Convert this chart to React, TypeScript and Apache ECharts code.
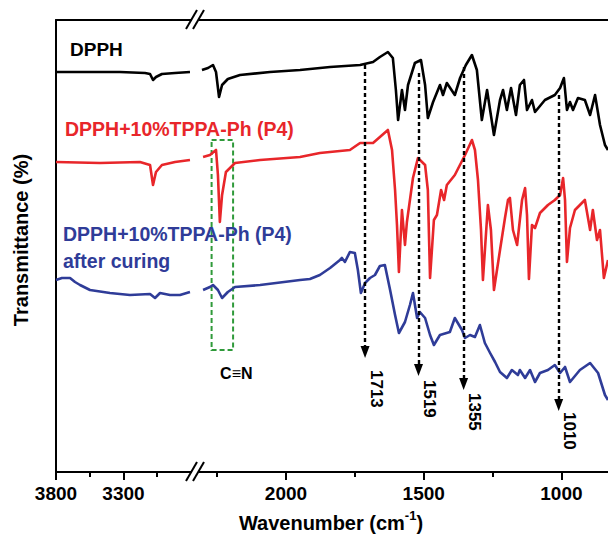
import React, { useEffect, useRef } from "react";
import * as echarts from "echarts";

const FONT = '"Liberation Sans", Arial, Helvetica, sans-serif';

// [wavenumber (cm-1), transmittance (a.u., offset spectra)]
const dpphLeft: [number, number][] = [
  [3800, 400], [3622, 400], [3326, 400], [3140, 399], [3103, 398], [3081, 392],
  [3059, 395], [3015, 398], [2918, 399], [2807, 400],
];
const dpphRight: [number, number][] = [
  [2305, 402], [2283, 404], [2265, 407], [2254, 400], [2243, 375], [2232, 387],
  [2211, 393], [2167, 397], [2058, 400], [1949, 402], [1840, 405], [1731, 407],
  [1684, 410], [1659, 415], [1630, 420], [1612, 414], [1601, 382], [1593, 352],
  [1579, 382], [1568, 362], [1557, 387], [1532, 409], [1510, 412], [1495, 387],
  [1485, 354], [1466, 370], [1441, 387], [1430, 377], [1416, 389], [1387, 377],
  [1368, 394], [1347, 407], [1325, 417], [1307, 402], [1289, 352], [1270, 382],
  [1259, 362], [1245, 337], [1223, 372], [1212, 382], [1198, 362], [1183, 384],
  [1165, 357], [1151, 387], [1136, 392], [1125, 362], [1107, 372], [1096, 360],
  [1060, 372], [1024, 377], [1005, 384], [991, 394], [980, 362], [969, 370],
  [958, 362], [940, 374], [915, 372], [896, 357], [878, 377], [860, 347],
  [842, 327], [831, 322],
];
const mixLeft: [number, number][] = [
  [3800, 310], [3474, 309], [3178, 310], [3103, 307], [3081, 287], [3059, 300],
  [3015, 307], [2918, 310], [2807, 312],
];
const mixRight: [number, number][] = [
  [2301, 315], [2276, 317], [2254, 322], [2247, 297], [2240, 250], [2232, 277],
  [2218, 300], [2185, 309], [2094, 312], [1949, 315], [1877, 319], [1768, 322],
  [1731, 329], [1684, 329], [1659, 335], [1630, 342], [1615, 322], [1604, 282],
  [1597, 247], [1590, 200], [1579, 262], [1568, 227], [1561, 250], [1550, 272],
  [1539, 294], [1521, 314], [1495, 307], [1485, 282], [1477, 194], [1463, 252],
  [1452, 257], [1437, 282], [1426, 272], [1416, 287], [1387, 297], [1350, 317],
  [1325, 332], [1314, 322], [1303, 292], [1292, 242], [1285, 192], [1267, 267],
  [1256, 242], [1245, 182], [1223, 222], [1205, 254], [1194, 272], [1187, 274],
  [1176, 242], [1161, 227], [1143, 272], [1132, 284], [1125, 257], [1118, 193],
  [1107, 247], [1096, 244], [1078, 259], [1049, 267], [1024, 272], [1005, 277],
  [994, 294], [987, 272], [980, 210], [969, 244], [951, 262], [933, 267],
  [915, 272], [896, 242], [886, 262], [871, 232], [860, 242], [846, 194],
  [831, 212],
];
const curedLeft: [number, number][] = [
  [3800, 192], [3756, 194], [3696, 194], [3659, 190], [3622, 187], [3548, 182],
  [3400, 179], [3252, 177], [3103, 178], [3066, 174], [3029, 179], [2955, 177],
  [2881, 177], [2807, 180],
];
const curedRight: [number, number][] = [
  [2301, 182], [2276, 185], [2265, 187], [2247, 182], [2232, 174], [2211, 180],
  [2185, 185], [2094, 187], [1949, 192], [1913, 193], [1877, 197], [1840, 204],
  [1804, 212], [1797, 214], [1786, 210], [1768, 220], [1750, 219], [1739, 202],
  [1728, 179], [1713, 189], [1695, 194], [1677, 197], [1659, 206], [1641, 207],
  [1622, 182], [1604, 157], [1590, 139], [1568, 150], [1550, 167], [1539, 179],
  [1524, 154], [1514, 160], [1495, 154], [1477, 137], [1463, 127], [1441, 137],
  [1405, 140], [1387, 154], [1361, 142], [1350, 134], [1332, 137], [1314, 135],
  [1296, 147], [1278, 129], [1259, 119], [1241, 110], [1223, 100], [1198, 94],
  [1180, 102], [1158, 97], [1151, 102], [1132, 94], [1114, 102], [1096, 90],
  [1078, 99], [1049, 102], [1024, 107], [1005, 99], [987, 105], [969, 90],
  [933, 102], [896, 109], [867, 99], [842, 77], [831, 72],
];

// annotations
const peakWavenumbers = [1713, 1519, 1355, 1010];
const arrowTop = [407, 399, 405, 377];
const arrowTip = [120, 102, 88, 67];
const labelTop = [102, 92, 79, 60];
const cnBox = { x1: 2270, x2: 2192, y1: 332, y2: 122 };

const leftMajor = [3800, 3300];
const leftMinor = [3550, 3050];
const rightMajor = [2000, 1500, 1000];
const rightMinor = [2250, 1750, 1250];

const BLACK = "#000000";
const RED = "#e8262a";
const BLUE = "#2f3c98";
const GREEN = "#2f9a3a";

export default function App() {
  const ref = useRef<HTMLDivElement>(null);
  useEffect(() => {
    if (!ref.current) return;
    const chart = echarts.init(ref.current, undefined, { renderer: "svg" });
    const L = { left: 56, top: 20, width: 141, height: 452 };
    const R = { left: 197, top: 20, width: 411, height: 452 };
    const lmin = 2755, lmax = 3800, rmin = 831, rmax = 2323;
    const axisLine = { show: true, lineStyle: { color: BLACK, width: 2 } };
    const lbl = {
      fontSize: 19, fontWeight: "bold" as const, color: BLACK, fontFamily: FONT, margin: 12,
      formatter: (v: number) => String(v),
    };
    const bottomMajor = (grid: number, min: number, max: number, vals: number[]) => ({
      type: "value", gridIndex: grid, position: "bottom", min, max, inverse: true,
      axisLine,
      axisTick: { show: true, customValues: vals, length: 8, lineStyle: { color: BLACK, width: 2 } },
      axisLabel: { show: true, customValues: vals, ...lbl },
      splitLine: { show: false },
    });
    const bottomMinor = (grid: number, min: number, max: number, vals: number[]) => ({
      type: "value", gridIndex: grid, position: "bottom", min, max, inverse: true,
      axisLine: { show: false },
      axisTick: { show: true, customValues: vals, length: 5, lineStyle: { color: BLACK, width: 2 } },
      axisLabel: { show: false },
      splitLine: { show: false },
    });
    const topLine = (grid: number, min: number, max: number) => ({
      type: "value", gridIndex: grid, position: "top", min, max, inverse: true,
      axisLine, axisTick: { show: false }, axisLabel: { show: false }, splitLine: { show: false },
    });
    const yAx = (grid: number, show: boolean) => ({
      type: "value", gridIndex: grid, min: 0, max: 452,
      axisLine: show ? axisLine : { show: false },
      axisTick: { show: false }, axisLabel: { show: false }, splitLine: { show: false },
    });
    const line = (name: string, data: [number, number][], color: string, xi: number, yi: number, extra: any = {}) => ({
      name, type: "line", data, xAxisIndex: xi, yAxisIndex: yi, showSymbol: false, symbol: "none",
      lineStyle: { color, width: 2.6, join: "round" }, itemStyle: { color }, silent: true, z: 3, ...extra,
    });
    chart.setOption({
      animation: false,
      backgroundColor: "#ffffff",
      grid: [
        { ...L, containLabel: false },
        { ...R, containLabel: false },
        { ...L, containLabel: false },
        { ...R, containLabel: false },
      ],
      xAxis: [
        bottomMajor(0, lmin, lmax, leftMajor),
        topLine(0, lmin, lmax),
        bottomMajor(1, rmin, rmax, rightMajor),
        topLine(1, rmin, rmax),
        bottomMinor(2, lmin, lmax, leftMinor),
        bottomMinor(3, rmin, rmax, rightMinor),
      ],
      yAxis: [yAx(0, true), yAx(1, false), yAx(2, false), yAx(3, false)],
      series: [
        line("DPPH", dpphLeft, BLACK, 0, 0),
        line("DPPH+10%TPPA-Ph (P4)", mixLeft, RED, 0, 0),
        line("after curing", curedLeft, BLUE, 0, 0),
        line("DPPH", dpphRight, BLACK, 2, 1, {
          markLine: {
            silent: true, symbol: ["none", "triangle"], symbolSize: [9, 12],
            label: { show: false },
            lineStyle: { color: BLACK, width: 2.4, type: [4, 3] },
            data: peakWavenumbers.map((w, i) => [
              { coord: [w, arrowTop[i]] },
              { coord: [w, arrowTip[i]] },
            ]),
            z: 5,
          },
        }),
        line("DPPH+10%TPPA-Ph (P4)", mixRight, RED, 2, 1, {
          markArea: {
            silent: true,
            itemStyle: { color: "rgba(0,0,0,0)", borderColor: GREEN, borderWidth: 2, borderType: [5, 3] },
            label: { show: false },
            data: [[{ coord: [cnBox.x1, cnBox.y1] }, { coord: [cnBox.x2, cnBox.y2] }]],
          },
        }),
        line("after curing", curedRight, BLUE, 2, 1),
      ],
    });

    const px = (w: number, t: number) =>
      chart.convertToPixel({ xAxisIndex: 2, yAxisIndex: 1 }, [w, t]) as number[];
    const txt = (text: string, x: number, y: number, color: string, size: number, extra: any = {}) => ({
      type: "text", x, y, z: 50, silent: true,
      style: { text, fill: color, font: `bold ${size}px ${FONT}`, textAlign: "left", textVerticalAlign: "middle" },
      ...extra,
    });
    const brk = (cx: number, cy: number) => [
      { type: "rect", z: 60, silent: true, shape: { x: cx - 4, y: cy - 3, width: 7, height: 6 }, style: { fill: "#fff" } },
      { type: "line", z: 61, silent: true, shape: { x1: cx - 10, y1: cy + 9, x2: cx + 1, y2: cy - 10 }, style: { stroke: BLACK, lineWidth: 2 } },
      { type: "line", z: 61, silent: true, shape: { x1: cx - 3, y1: cy + 9, x2: cx + 8, y2: cy - 10 }, style: { stroke: BLACK, lineWidth: 2 } },
    ];
    const peakLabels = peakWavenumbers.map((w, i) => {
      const p = px(w, labelTop[i]);
      return txt(String(w), p[0] + 11, p[1], BLACK, 17, { rotation: -Math.PI / 2 });
    });
    const cnCenter = px((cnBox.x1 + cnBox.x2) / 2, cnBox.y2);
    chart.setOption({
      graphic: [
        txt("DPPH", 70, 49, BLACK, 19),
        txt("DPPH+10%TPPA-Ph (P4)", 65, 129, RED, 19.5),
        txt("DPPH+10%TPPA-Ph (P4)", 63, 234, BLUE, 19.5),
        txt("after curing", 63, 261, BLUE, 19.5),
        {
          type: "text", x: cnCenter[0] + 14, y: cnCenter[1] + 23, z: 50, silent: true,
          style: { text: "C≡N", fill: BLACK, font: `bold 16px ${FONT}`, textAlign: "center", textVerticalAlign: "middle" },
        },
        ...peakLabels,
        {
          type: "text", x: 21, y: 240, rotation: Math.PI / 2, z: 50, silent: true,
          style: { text: "Transmittance (%)", fill: BLACK, font: `bold 20px ${FONT}`, textAlign: "center", textVerticalAlign: "middle" },
        },
        {
          type: "text", x: 331, y: 521, z: 50, silent: true,
          style: {
            text: "{n|Wavenumber (cm}{s|-1}{n|)}",
            textAlign: "center", textVerticalAlign: "middle",
            rich: {
              n: { fontSize: 20, fontWeight: "bold", fontFamily: FONT, fill: BLACK, lineHeight: 24, verticalAlign: "bottom" },
              s: { fontSize: 13, fontWeight: "bold", fontFamily: FONT, fill: BLACK, lineHeight: 24, verticalAlign: "top" },
            },
          },
        },
        ...brk(196, 20),
        ...brk(196, 472),
      ],
    });
    return () => chart.dispose();
  }, []);
  return (
    <div style={{ position: "fixed", left: 0, top: 0, width: 608, height: 535, overflow: "hidden", background: "#fff" }}>
      <div ref={ref} style={{ width: 608, height: 535 }} />
    </div>
  );
}
